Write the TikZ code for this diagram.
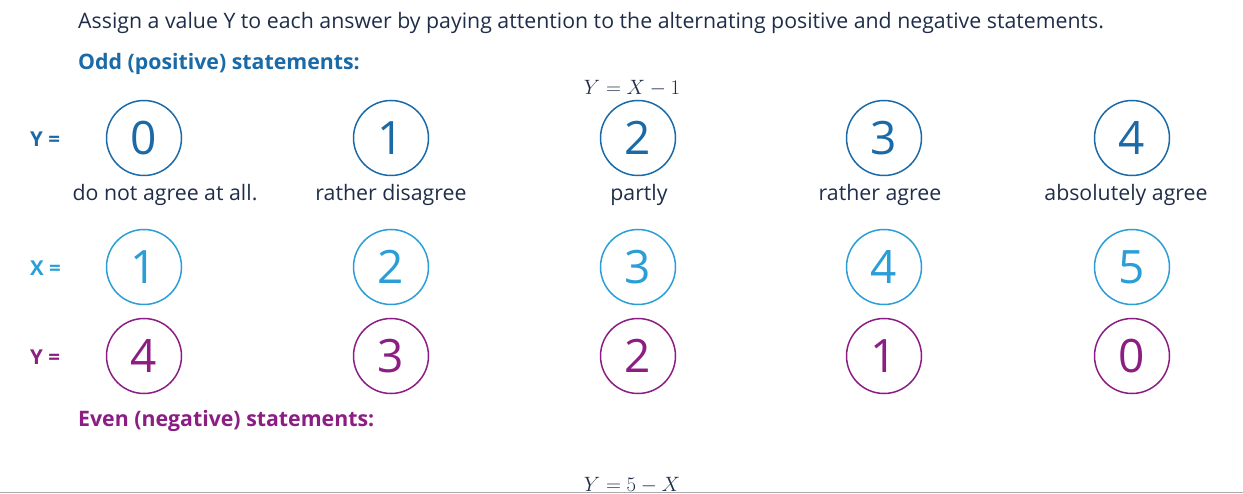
\documentclass[tikz,border=0pt]{standalone}
\usepackage[no-math]{fontspec}
\setmainfont{Open Sans}
\definecolor{dblue}{HTML}{1B6AA8}
\definecolor{lblue}{HTML}{2B9ED8}
\definecolor{mpurple}{HTML}{8C1D82}
\definecolor{navy}{HTML}{1F2D4A}
\definecolor{rulegray}{HTML}{ABABAB}
\begin{document}
\begin{tikzpicture}[x=1pt,y=-1pt,
  circ/.style={circle, draw, line width=1.5pt, minimum size=75pt, inner sep=0pt,
    font=\fontsize{46}{46}\selectfont},
  lab/.style={text=navy, font=\fontsize{21.3}{24}\selectfont, inner sep=0pt},
  rowlab/.style={font=\bfseries\fontsize{20.5}{22}\selectfont, inner sep=0pt},
  head/.style={font=\bfseries\fontsize{21.3}{24}\selectfont, inner sep=0pt, anchor=base west},
  formula/.style={text=navy, font=\fontsize{19.5}{22}\selectfont, inner sep=0pt}]
\useasboundingbox (0,0) rectangle (1243,494);
\begin{scope}
\clip (0,0) rectangle (1243,494);
\node[lab, anchor=base west] (title) at (78,29) {Assign a value Y to each answer by paying attention to the alternating positive and negative statements.};
\node[head, text=dblue] (odd) at (78,70) {Odd (positive) statements:};
\node[formula, anchor=base] (f1) at (632,95) {$Y = X - 1$};
% row 1
\node[rowlab, text=dblue, anchor=west] (ly1) at (30,139) {Y =};
\foreach \v/\x in {0/144,1/391,2/638,3/884,4/1132}
  \node[circ, draw=dblue, text=dblue] (a\v) at (\x,138) {\v};
% answer labels
\node[lab, anchor=base] (t0) at (165,201) {do not agree at all.};
\node[lab, anchor=base] (t1) at (391,201) {rather disagree};
\node[lab, anchor=base] (t2) at (639,201) {partly};
\node[lab, anchor=base] (t3) at (880,201) {rather agree};
\node[lab, anchor=base] (t4) at (1126,201) {absolutely agree};
% row 2
\node[rowlab, text=lblue, anchor=west] (lx) at (30,268) {X =};
\foreach \v/\x in {1/144,2/391,3/638,4/884,5/1132}
  \node[circ, draw=lblue, text=lblue] (b\v) at (\x,267) {\v};
% row 3
\node[rowlab, text=mpurple, anchor=west] (ly2) at (30,357) {Y =};
\foreach \v/\x in {4/144,3/391,2/638,1/884,0/1132}
  \node[circ, draw=mpurple, text=mpurple] (c\v) at (\x,356) {\v};
\node[head, text=mpurple] (even) at (78,426) {Even (negative) statements:};
\node[formula, anchor=base] (f2) at (632,491) {$Y = 5 - X$};
\draw[rulegray, line width=1.5pt] (0,492.5) -- (1243,492.5);
\end{scope}
\end{tikzpicture}
\end{document}
